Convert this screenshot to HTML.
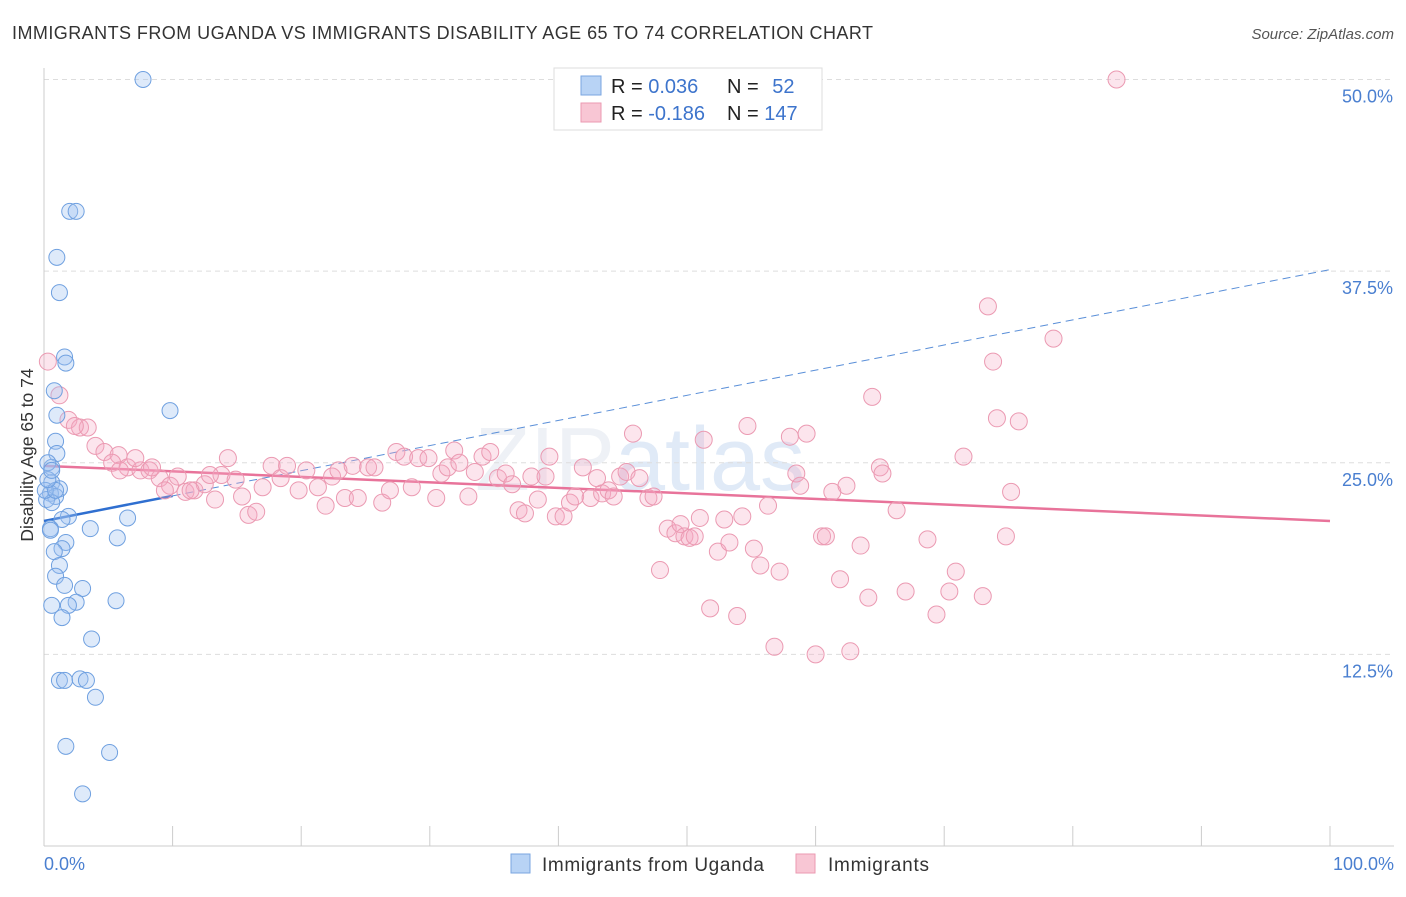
<!DOCTYPE html>
<html><head><meta charset="utf-8"><style>
body{margin:0;background:#fff;font-family:"Liberation Sans",sans-serif;}
svg text{font-family:"Liberation Sans",sans-serif;}
</style></head><body>
<svg id="chart" width="1406" height="892" xmlns="http://www.w3.org/2000/svg">
<text x="12" y="39" font-size="18" fill="#333" textLength="861">IMMIGRANTS FROM UGANDA VS IMMIGRANTS DISABILITY AGE 65 TO 74 CORRELATION CHART</text>
<text x="1394" y="39" font-size="15" fill="#555" text-anchor="end" font-style="italic">Source: ZipAtlas.com</text>
<text x="640" y="490" font-size="90" fill="#eef1f6" font-family="Liberation Serif" text-anchor="middle">ZIP<tspan fill="#e0eaf7" font-family="Liberation Sans">atlas</tspan></text>
<g id="grid"></g><g id="axes"></g><g id="lines"></g><g id="pts"></g>
<text transform="translate(33,455) rotate(-90)" font-size="17.5" fill="#333" text-anchor="middle">Disability Age 65 to 74</text>
<text x="44" y="870" font-size="18" fill="#4a7fd0">0.0%</text>
<text x="1394" y="870" font-size="18" fill="#4a7fd0" text-anchor="end">100.0%</text>
<g>
<rect x="554" y="68" width="268" height="62" fill="#fff" stroke="#ddd"/>
<rect x="581" y="76" width="20" height="19" fill="#b8d3f5" stroke="#7aa6e0"/>
<rect x="581" y="103" width="20" height="19" fill="#f8c6d4" stroke="#eb9ab2"/>
<text x="611" y="93" font-size="20" fill="#222">R = <tspan fill="#3d74cc">0.036</tspan></text>
<text x="727" y="93" font-size="20" fill="#222">N = <tspan fill="#3d74cc" dx="8">52</tspan></text>
<text x="611" y="120" font-size="20" fill="#222">R = <tspan fill="#3d74cc">-0.186</tspan></text>
<text x="727" y="120" font-size="20" fill="#222">N = <tspan fill="#3d74cc">147</tspan></text>
</g>
<g>
<rect x="511" y="854" width="19" height="19" fill="#b8d3f5" stroke="#7aa6e0"/>
<text x="542" y="871" font-size="19" fill="#333" textLength="222">Immigrants from Uganda</text>
<rect x="796" y="854" width="19" height="19" fill="#f8c6d4" stroke="#eb9ab2"/>
<text x="828" y="871" font-size="19" fill="#333" textLength="101">Immigrants</text>
</g>
</svg>
<script>
const yTicks=[12.5,25.0,37.5,50.0];
const blueX=[7.7,2.0,2.5,1.0,1.2,1.6,1.7,0.8,9.8,1.0,0.9,1.0,0.6,0.6,1.2,0.5,0.9,0.2,0.6,1.9,1.4,0.5,3.6,6.5,5.7,1.7,1.4,0.8,1.2,0.9,3.0,1.6,0.6,2.5,1.9,5.6,1.4,3.7,1.2,1.6,2.8,3.3,4.0,1.7,5.1,3.0,0.3,0.1,0.5,0.9,0.3,0.6];
const blueY=[50.0,41.4,41.4,38.4,36.1,31.9,31.5,29.7,28.4,28.1,26.4,25.6,24.7,23.7,23.3,23.0,22.8,22.6,22.4,21.5,21.3,20.7,20.7,21.4,20.1,19.8,19.4,19.2,18.3,17.6,16.8,17.0,15.7,15.9,15.7,16.0,14.9,13.5,10.8,10.8,10.9,10.8,9.7,6.5,6.1,3.4,25.0,23.2,20.6,23.2,23.9,24.5];
const pinkX=[83.4,73.4,78.5,73.8,64.4,74.1,75.8,0.3,1.2,1.9,2.8,3.4,2.4,4.0,4.7,5.8,5.3,6.5,7.5,8.2,9.0,9.8,10.4,11.0,11.7,12.5,13.3,13.8,14.3,14.9,15.4,15.9,16.5,17.0,17.7,18.4,18.9,19.8,20.4,21.3,21.9,22.4,22.9,23.4,24.0,24.4,25.2,25.7,26.3,26.9,27.4,28.0,28.6,29.1,29.9,30.5,30.9,31.4,31.9,32.3,33.0,33.5,34.1,34.7,35.3,35.9,36.4,36.9,37.4,37.9,38.4,39.0,39.3,39.8,40.4,40.9,41.3,41.9,42.5,43.0,43.4,43.9,44.3,44.8,45.3,45.8,46.3,47.0,47.4,47.9,48.5,49.1,49.5,49.8,50.2,50.6,51.0,51.3,51.8,52.4,52.9,53.3,53.9,54.3,54.7,55.2,55.7,56.3,56.8,57.2,58.0,58.5,58.8,59.3,60.0,60.5,60.8,61.3,61.9,62.4,62.7,63.5,64.1,65.0,65.2,66.3,67.0,68.7,69.4,70.4,70.9,71.5,73.0,74.8,75.2,5.9,7.1,8.4,9.4,11.4,12.9];
const pinkY=[50.0,35.2,33.1,31.6,29.3,27.9,27.7,31.6,29.4,27.8,27.3,27.3,27.4,26.1,25.7,25.5,25.0,24.7,24.5,24.5,24.0,23.5,24.1,23.1,23.2,23.6,22.6,24.2,25.3,23.9,22.8,21.6,21.8,23.4,24.8,24.0,24.8,23.2,24.5,23.4,22.2,24.1,24.5,22.7,24.8,22.7,24.7,24.7,22.4,23.2,25.7,25.4,23.4,25.3,25.3,22.7,24.3,24.7,25.8,25.0,22.8,24.4,25.4,25.7,24.0,24.3,23.6,21.9,21.7,24.1,22.6,24.1,25.4,21.5,21.5,22.4,22.8,24.7,22.7,24.0,23.0,23.2,22.8,24.1,24.4,26.9,24.0,22.7,22.8,18.0,20.7,20.4,21.0,20.2,20.1,20.2,21.4,26.5,15.5,19.2,21.3,19.8,15.0,21.5,27.4,19.4,18.3,22.2,13.0,17.9,26.7,24.3,23.5,26.9,12.5,20.2,20.2,23.1,17.4,23.5,12.7,19.6,16.2,24.7,24.3,21.9,16.6,20.0,15.1,16.6,17.9,25.4,16.3,20.2,23.1,24.5,25.3,24.7,23.2,23.2,24.2];
const blueTrend=[21.2,37.6];
const pinkTrend=[24.8,21.2];
const NS="http://www.w3.org/2000/svg";
const X0=44,X1=1330,Y0=846,YS=15.33;
const sx=v=>X0+(X1-X0)*v/100, sy=v=>Y0-v*YS;
function mk(parent,tag,attrs){const e=document.createElementNS(NS,tag);for(const k in attrs)e.setAttribute(k,attrs[k]);document.getElementById(parent).appendChild(e);return e;}
yTicks.forEach(t=>{
  const g=mk('grid','line',{x1:X0,x2:1394,y1:sy(t),y2:sy(t),stroke:'#ddd','stroke-dasharray':'5,4'});
  
  
  const l=mk('grid','text',{x:1393,y:sy(t)+23,'font-size':18,fill:'#4a7fd0','text-anchor':'end'});
  l.textContent=t.toFixed(1)+'%';
  
  
});
const xa=mk('axes','line',{x1:X0,x2:1394,y1:Y0,y2:Y0,stroke:'#ccc'});


const ya=mk('axes','line',{x1:X0,x2:X0,y1:68,y2:Y0,stroke:'#ccc'});


for(let i=0;i<=10;i++){const t=mk('axes','line',{x1:sx(i*10),x2:sx(i*10),y1:826,y2:Y0,stroke:'#ccc'});
  
  }
const b1=mk('lines','line',{x1:sx(0),y1:sy(blueTrend[0]),x2:sx(10),y2:sy(blueTrend[0]+(blueTrend[1]-blueTrend[0])*0.1),stroke:'#2f6fd0','stroke-width':2.5});


const b2=mk('lines','line',{x1:sx(10),y1:sy(blueTrend[0]+(blueTrend[1]-blueTrend[0])*0.1),x2:sx(100),y2:sy(blueTrend[1]),stroke:'#5a8fd8','stroke-width':1,'stroke-dasharray':'8,5'});


const p1=mk('lines','line',{x1:sx(0),y1:sy(pinkTrend[0]),x2:sx(100),y2:sy(pinkTrend[1]),stroke:'#e8739a','stroke-width':2.5});


pinkX.forEach((x,i)=>{const c=mk('pts','circle',{cx:sx(x),cy:sy(pinkY[i]),r:8.5,fill:'rgba(244,170,195,0.3)',stroke:'#eb9ab2','stroke-width':1});
  
  });
blueX.forEach((x,i)=>{const c=mk('pts','circle',{cx:sx(x),cy:sy(blueY[i]),r:8,fill:'rgba(160,195,240,0.35)',stroke:'#6fa0e0','stroke-width':1});
  
  });
</script>
</body></html>
